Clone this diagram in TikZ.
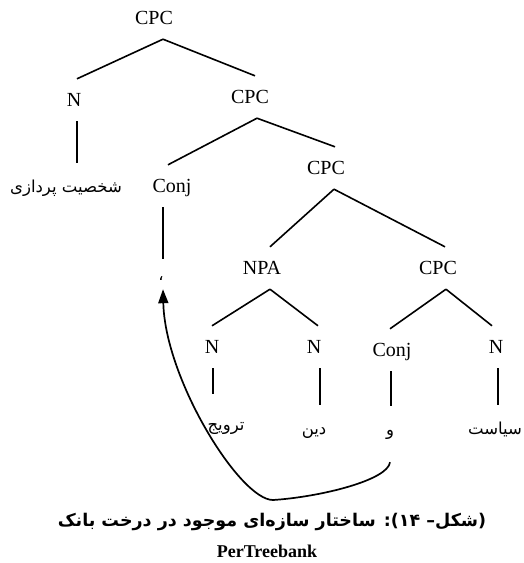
\documentclass[tikz,border=0pt]{standalone}
\usepackage{fontspec}
\setmainfont{Liberation Serif}
\newfontfamily\fa[Script=Arabic]{DejaVu Sans}
\usetikzlibrary{arrows.meta}
\TeXXeTstate=1

\begin{document}
\begin{tikzpicture}[x=1pt,y=-1pt,
  cat/.style={font=\fontsize{20}{24}\selectfont, inner xsep=1pt, inner ysep=14.5pt,
              text height=13pt, text depth=0pt},
  word/.style={font=\fa\fontsize{16.5}{20}\selectfont, anchor=base, inner xsep=1pt,
               inner ysep=9pt, text height=20pt, text depth=0pt},
  branch/.style={line width=1.6pt},
  link/.style={line width=1.7pt, -{Triangle[length=14pt,width=10pt]}}]
\useasboundingbox (0,0) rectangle (523,563);

% category labels
\node[cat] (cpc1)  at (154,18)  {CPC};
\node[cat] (n1)    at (74,100)  {N};
\node[cat] (cpc2)  at (250,97)  {CPC};
\node[cat] (conj1) at (172,186) {Conj};
\node[cat] (cpc3)  at (326,168) {CPC};
\node[cat] (npa)   at (262,268) {NPA};
\node[cat] (cpc4)  at (438,268) {CPC};
\node[cat] (n2)    at (212,347) {N};
\node[cat] (n3)    at (314,347) {N};
\node[cat] (conj2) at (392,350) {Conj};
\node[cat] (n4)    at (496,347) {N};

% words (Persian)
\node[word] (w1) at (66,192)  {\beginR شخصیت پردازی\endR};
\node[word] (cm) at (161,280) {\beginR ،\endR};
\node[word] (w2) at (226,430) {\beginR ترویج\endR};
\node[word] (w3) at (314,434) {\beginR دین\endR};
\node[word] (w4) at (390,435) {\beginR و\endR};
\node[word] (w5) at (495,434) {\beginR سیاست\endR};

% branches
\draw[branch] ([xshift=9pt]cpc1.south) -- ([xshift=3pt]n1.north);
\draw[branch] ([xshift=9pt]cpc1.south) -- ([xshift=5pt]cpc2.north);
\draw[branch] ([xshift=7pt]cpc2.south) -- ([xshift=-4pt]conj1.north);
\draw[branch] ([xshift=7pt]cpc2.south) -- ([xshift=9pt]cpc3.north);
\draw[branch] ([xshift=8pt]cpc3.south) -- ([xshift=8pt]npa.north);
\draw[branch] ([xshift=8pt]cpc3.south) -- ([xshift=7pt]cpc4.north);
\draw[branch] ([xshift=8pt]npa.south)  -- (n2.north);
\draw[branch] ([xshift=8pt]npa.south)  -- ([xshift=4pt]n3.north);
\draw[branch] ([xshift=8pt]cpc4.south) -- ([xshift=-2pt]conj2.north);
\draw[branch] ([xshift=8pt]cpc4.south) -- ([xshift=-4pt]n4.north);

% unary links to the words
\draw[branch] ([xshift=3pt]n1.south) -- ([xshift=3pt]n1.south |- w1.north);
\draw[branch] ([xshift=1pt]n2.south) -- ([xshift=1pt,yshift=7pt]n2.south |- w2.north);
\draw[branch] ([xshift=6pt]n3.south) -- ([xshift=6pt]n3.south |- w3.north);
\draw[branch] ([xshift=-1pt]conj2.south) -- ([xshift=-1pt]conj2.south |- w4.north);
\draw[branch] ([xshift=2pt]n4.south) -- ([xshift=2pt]n4.south |- w5.north);
\draw[branch] ([xshift=2pt]cm.north |- conj1.south) -- ([xshift=2pt,yshift=-8pt]cm.north);

% moved conjunction
\coordinate (low) at (273,500);
\draw[link] ([yshift=-18pt]w4.south) .. controls +(-2,18) and +(47,-3) .. (low)
            .. controls +(-33,0) and +(2,90) .. ([xshift=2pt]cm.south);

% caption
\node[font=\fa\bfseries\fontsize{17.5}{22}\selectfont, inner sep=0pt] (cap) at (272,522)
  {\beginR (شکل– \beginL ۱۴\endL): ساختار سازه‌ای موجود در درخت بانک\endR};
\node[font=\bfseries\fontsize{18}{22}\selectfont, inner sep=0pt] (tb) at (267,551) {PerTreebank};
\end{tikzpicture}
\end{document}
